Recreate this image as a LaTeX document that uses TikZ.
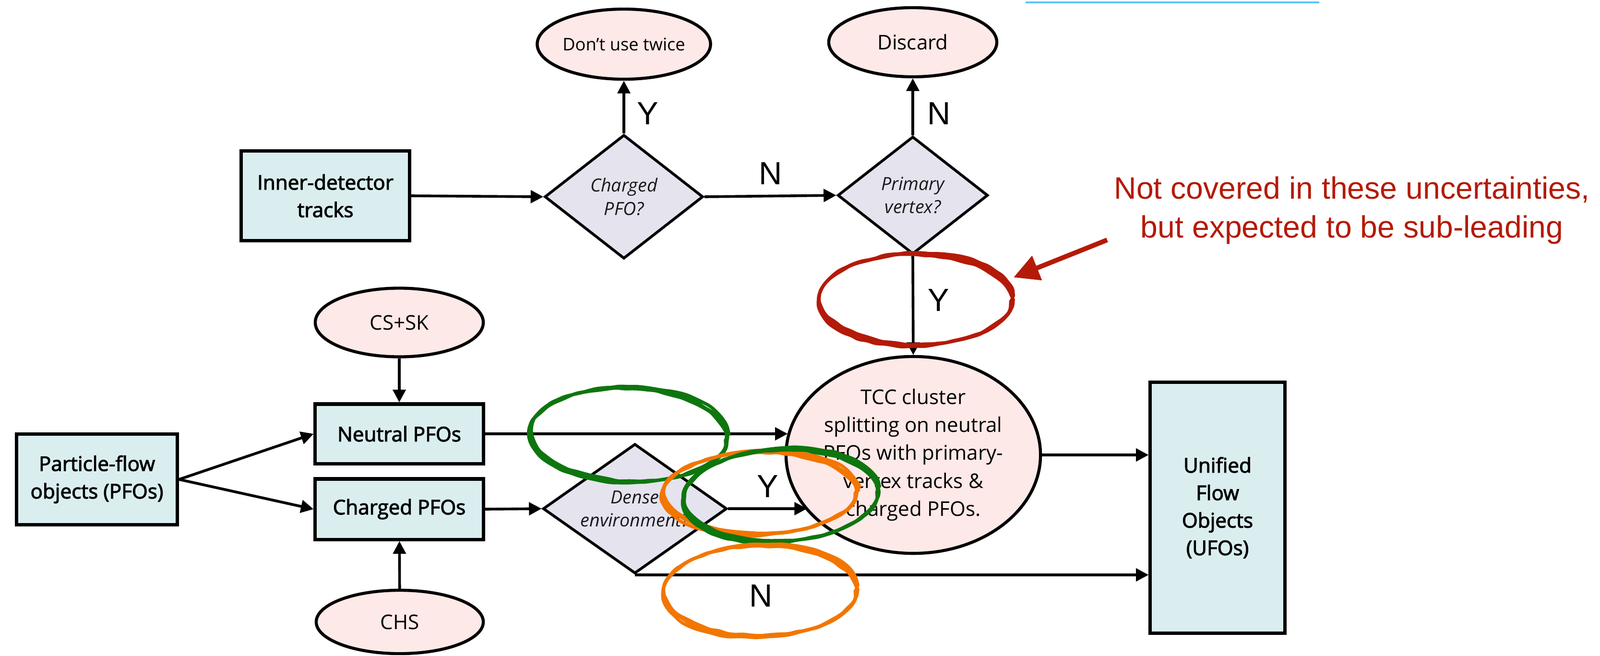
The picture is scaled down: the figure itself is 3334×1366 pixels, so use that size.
\documentclass[tikz,border=0pt]{standalone}
\usepackage{fontspec}
\setmainfont{Open Sans}
\newfontfamily\semibf{Open Sans}[FakeBold=2.6]
\newfontfamily\helv{Liberation Sans}
\usetikzlibrary{shapes.geometric,arrows.meta,decorations.pathmorphing}

\definecolor{boxfill}{RGB}{218,238,240}
\definecolor{ovalfill}{RGB}{253,233,231}
\definecolor{diafill}{RGB}{229,227,238}
\definecolor{markred}{RGB}{180,26,8}
\definecolor{markgreen}{RGB}{14,118,14}
\definecolor{markorange}{RGB}{242,118,0}
\definecolor{topblue}{RGB}{94,196,248}

\begin{document}
\begin{tikzpicture}[
			x=0.01cm, y=-0.01cm,
			box/.style={draw, line width=2pt, fill=boxfill, align=center, inner sep=0pt,
				font=\semibf\fontsize{12}{16.3}\selectfont},
			oval/.style={draw, ellipse, line width=1.8pt, fill=ovalfill, align=center, inner sep=0pt,
				font=\fontsize{12}{16.5}\selectfont},
			decision/.style={draw, diamond, line width=1.6pt, fill=diafill, align=center, inner sep=0pt,
				text=black!90, font=\itshape\fontsize{10.7}{13.7}\selectfont},
			flow/.style={line width=1.6pt, -{Triangle[length=7.5pt,width=7.5pt]}},
			yn/.style={font=\helv\fontsize{19}{19}\selectfont, inner sep=2pt},
			scribble/.style={line width=1.9pt, line cap=round, decorate,
				decoration={random steps, segment length=5pt, amplitude=0.5pt}, rounded corners=2pt}
			]
				\useasboundingbox (0,0) rectangle (3334,1366);

				\draw[topblue, line width=1.2pt] (2137,5) -- (2749,5);

				\node[box, minimum width=3.35cm, minimum height=1.88cm] (pfo) at (202,999) {Particle-flow\\objects (PFOs)};
				\node[box, minimum width=3.51cm, minimum height=1.86cm] (inner) at (678,408) {Inner-detector\\tracks};
				\node[box, minimum width=3.50cm, minimum height=1.24cm] (neutral) at (832,904) {Neutral PFOs};
				\node[box, minimum width=3.50cm, minimum height=1.26cm] (charged) at (832,1061) {Charged PFOs};
				\node[box, minimum width=2.80cm, minimum height=5.23cm] (ufo) at (2537,1058) {Unified\\Flow\\Objects\\(UFOs)};

				\node[oval, minimum width=3.50cm, minimum height=1.43cm] (cssk) at (832,672) {CS+SK};
				\node[oval, minimum width=3.48cm, minimum height=1.32cm] (chs) at (833,1296) {CHS};
				\node[oval, minimum width=3.52cm, minimum height=1.46cm, font=\fontsize{10.3}{12}\selectfont] (twice) at (1300,92) {Don’t use twice};
				\node[oval, minimum width=3.50cm, minimum height=1.44cm] (discard) at (1902,88) {Discard};
				\node[oval, minimum width=5.08cm, minimum height=4.10cm] (tcc) at (1903,948)
					{TCC cluster\\splitting on neutral\\PFOs with primary-\\vertex tracks \&\\charged PFOs.};

				\node[decision, shape aspect=1.28, minimum width=3.30cm, minimum height=2.58cm] (chargedq) at (1300,410) {Charged\\PFO?};
				\node[decision, shape aspect=1.28, minimum width=3.13cm, minimum height=2.45cm] (primary) at (1902,407) {Primary\\vertex?};
				\node[decision, shape aspect=1.42, minimum width=3.83cm, minimum height=2.70cm] (dense) at (1323,1060) {Dense\\environment?};

				\draw[flow] (pfo.east) -- (neutral.west);
				\draw[flow] (pfo.east) -- (charged.west);
				\draw[flow] (cssk) -- (neutral);
				\draw[flow] (chs) -- (charged);
				\draw[flow] (inner.east) -- (chargedq.west);
				\draw[flow] (chargedq.north) -- (twice.south) node[yn, pos=0.38, right=5pt] (ytwice) {Y};
				\draw[flow] (chargedq.east) -- (primary.west) node[yn, midway, above=4pt] (nprimary) {N};
				\draw[flow] (primary.north) -- (discard.south) node[yn, pos=0.38, right=6pt] (ndiscard) {N};
				\draw[flow] (primary.south) -- (tcc.north) node[yn, pos=0.45, right=6pt] (ytcc) {Y};
				\draw[flow] (neutral.east) -- (neutral.east -| tcc.170);
				\draw[flow] (charged.east) -- (dense.west);
				\draw[flow] (dense.east) -- (dense.east -| tcc.208) node[yn, midway, above=4pt] (ydense) {Y};
				\draw[flow] (dense.south) -- (dense.south -| ufo.west) node[yn, pos=0.245, below=3pt] (ndense) {N};
				\draw[flow] (tcc.east) -- (tcc.east -| ufo.west);

				\foreach \rx/\ry/\a in {200/95/0, 202/97/2, 198/93/-1}
					\draw[scribble, markred, rotate around={\a:(1908,624)}] (1908,624) ellipse [x radius=\rx, y radius=\ry];
				\foreach \rx/\ry/\a in {204/98/-2, 206/100/0, 202/96/-3}
					\draw[scribble, markgreen, rotate around={\a:(1310,906)}] (1310,906) ellipse [x radius=\rx, y radius=\ry];
				\foreach \rx/\ry/\a in {200/86/1, 202/88/3, 198/84/0}
					\draw[scribble, markorange, rotate around={\a:(1584,1027)}] (1584,1027) ellipse [x radius=\rx, y radius=\ry];
				\foreach \rx/\ry/\a in {202/96/3, 204/98/5, 200/94/2}
					\draw[scribble, markgreen, rotate around={\a:(1627,1032)}] (1627,1032) ellipse [x radius=\rx, y radius=\ry];
				\foreach \rx/\ry/\a in {200/95/1, 202/97/3, 198/93/0}
					\draw[scribble, markorange, rotate around={\a:(1584,1231)}] (1584,1231) ellipse [x radius=\rx, y radius=\ry];

				\node[text=markred, align=center, font=\helv\fontsize{18.3}{23}\selectfont] (note) at (2817,438)
					{Not covered in these uncertainties,\\but expected to be sub-leading};
				\coordinate (tailpt) at (2307,500);
				\coordinate (tippt) at (2112,578);
				\draw[markred, line width=2.8pt, -{Triangle[length=15pt,width=15pt]}] (tailpt) -- (tippt);

			\end{tikzpicture}
\end{document}
